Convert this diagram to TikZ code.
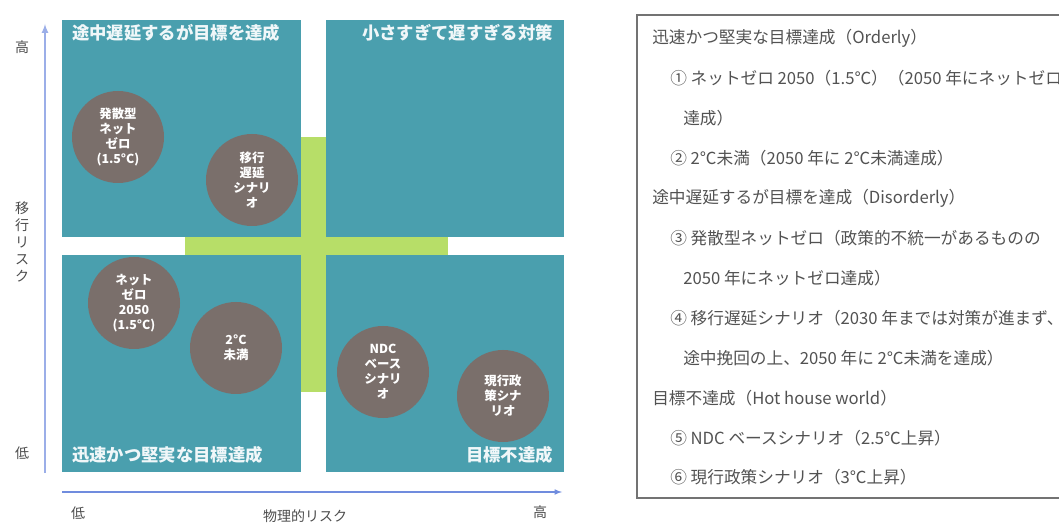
\documentclass[tikz,border=0pt]{standalone}
\usepackage{fontspec}
\setmainfont{Noto Sans CJK JP}
\usepackage{tikz}
\usetikzlibrary{arrows,shapes,positioning}
\definecolor{quadteal}{RGB}{74,159,174}
\definecolor{crossgreen}{RGB}{183,222,104}
\definecolor{scengray}{RGB}{122,111,107}
\definecolor{axisblue}{RGB}{112,140,222}
\tikzset{
	quad/.style    = {fill=quadteal},
	scen/.style    = {circle, fill=scengray, minimum size=69pt, inner sep=0pt,
		align=center, text=white, font=\fontsize{9.3}{11.3}\selectfont\bfseries},
	qtitle/.style  = {text=white!92!quadteal, inner sep=0pt,
		font=\fontsize{13}{15}\selectfont\bfseries},
	axlabel/.style = {inner sep=0pt, align=center, text=black!70,
		font=\fontsize{10.5}{12.8}\selectfont},
	legend/.style  = {anchor=west, inner sep=0pt, text=black!68,
		font=\fontsize{12.5}{14}\selectfont}
}

\begin{document}
\begin{tikzpicture}[x=0.75pt, y=-0.75pt, >=latex]
\useasboundingbox (0,0) rectangle (1059,523);
\clip (0,0) rectangle (1059,523);

% green cross behind the quadrants
\fill[crossgreen] (301,137) rectangle (326,392);
\fill[crossgreen] (185,237) rectangle (448,256);

% the four quadrants
\fill[quad] (62,20) rectangle (301,237);
\fill[quad] (326,20) rectangle (564,237);
\fill[quad] (62,255) rectangle (301,472);
\fill[quad] (326,255) rectangle (564,472);

\node[qtitle, anchor=west] (t1) at (72,33) {途中遅延するが目標を達成};
\node[qtitle, anchor=east] (t2) at (553,33) {小さすぎて遅すぎる対策};
\node[qtitle, anchor=west] (t3) at (72,455) {迅速かつ堅実な目標達成};
\node[qtitle, anchor=east] (t4) at (553,455) {目標不達成};

% scenarios
\node[scen] (s3) at (118,137) {発散型\\ネット\\ゼロ\\(1.5°C)};
\node[scen] (s4) at (252,180) {移行\\遅延\\シナリ\\オ};
\node[scen] (s1) at (134,303) {ネット\\ゼロ\\2050\\(1.5°C)};
\node[scen] (s2) at (236,348) {2°C\\未満};
\node[scen] (s5) at (383,372) {NDC\\ベース\\シナリ\\オ};
\node[scen] (s6) at (503,396) {現行政\\策シナ\\リオ};

% axes
\coordinate (vbot) at (45,473);
\coordinate (vtop) at (45,24);
\coordinate (hleft) at (62,492);
\coordinate (hright) at (562,492);
\draw[->, axisblue!70, line width=1.3pt] (vbot) -- (vtop);
\draw[->, axisblue, line width=0.9pt] (hleft) -- (hright);

\node[axlabel] (yhi) at (22,47) {高};
\node[axlabel] (ylo) at (22,453) {低};
\node[axlabel] (ytxt) at (22,242) {移\\行\\リ\\ス\\ク};
\node[axlabel] (xlo) at (78,513) {低};
\node[axlabel] (xtxt) at (305,516) {物理的リスク};
\node[axlabel] (xhi) at (540,512) {高};

% legend box
\draw[black!55, line width=1.8pt] (637,15) rectangle (1080,498);
\node[legend] (l1) at (652,38) {迅速かつ堅実な目標達成（Orderly）};
\node[legend] (l2) at (670,78) {① ネットゼロ 2050（1.5℃）（2050 年にネットゼロ};
\node[legend] (l3) at (683,118) {達成）};
\node[legend] (l4) at (670,158) {② 2℃未満（2050 年に 2℃未満達成）};
\node[legend] (l5) at (652,198) {途中遅延するが目標を達成（Disorderly）};
\node[legend] (l6) at (670,238) {③ 発散型ネットゼロ（政策的不統一があるものの};
\node[legend] (l7) at (683,278) {2050 年にネットゼロ達成）};
\node[legend] (l8) at (670,318) {④ 移行遅延シナリオ（2030 年までは対策が進まず、};
\node[legend] (l9) at (683,358) {途中挽回の上、2050 年に 2℃未満を達成）};
\node[legend] (l10) at (652,398) {目標不達成（Hot house world）};
\node[legend] (l11) at (670,438) {⑤ NDC ベースシナリオ（2.5℃上昇）};
\node[legend] (l12) at (670,477) {⑥ 現行政策シナリオ（3℃上昇）};

\end{tikzpicture}
\end{document}
